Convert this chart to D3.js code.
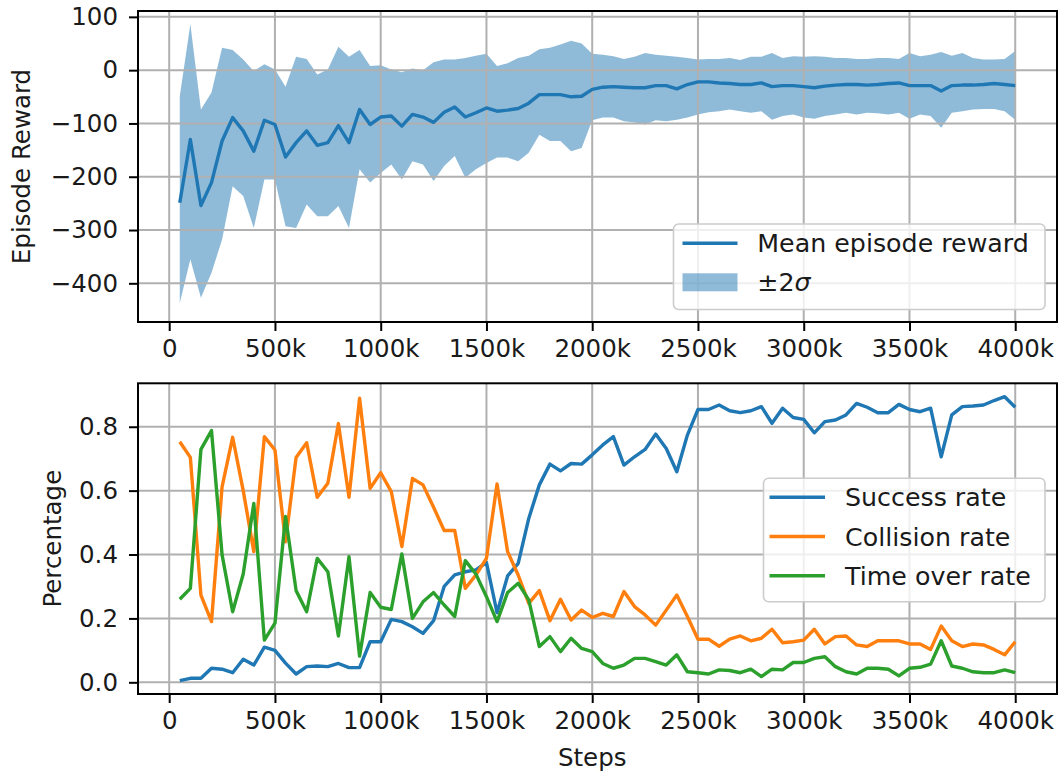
<!DOCTYPE html>
<html>
<head>
<meta charset="utf-8">
<script src="https://cdn.jsdelivr.net/npm/d3@7"></script>
<style>
  html, body { margin: 0; padding: 0; background: #fff; }
  svg { display: block; }
  text { font-family: "DejaVu Sans", sans-serif; fill: #1a1a1a; }
</style>
</head>
<body>
<svg id="chart" width="1063" height="776"></svg>
<script>
// ---------------- DATA ----------------
const steps = [50,100,150,200,250,300,350,400,450,500,550,600,650,700,750,800,850,900,950,1000,
  1050,1100,1150,1200,1250,1300,1350,1400,1450,1500,1550,1600,1650,1700,1750,1800,1850,1900,1950,2000,
  2050,2100,2150,2200,2250,2300,2350,2400,2450,2500,2550,2600,2650,2700,2750,2800,2850,2900,2950,3000,
  3050,3100,3150,3200,3250,3300,3350,3400,3450,3500,3550,3600,3650,3700,3750,3800,3850,3900,3950,4000];

const meanReward = [-249,-130,-254,-211,-133,-89,-114,-152,-94,-102,
  -163,-136,-114,-141,-136,-104,-136,-74,-102,-88,
  -86,-105,-83,-88,-98,-79,-69,-88,-80,-71,
  -77,-75,-72,-62,-46,-46,-46,-50,-49,-36,
  -32,-31,-32,-33,-33,-29,-29,-35,-27,-22,
  -22,-24,-25,-27,-27,-24,-31,-29,-29,-31,
  -33,-30,-28,-27,-27,-28,-27,-25,-24,-29,
  -29,-29,-39,-29,-28,-28,-27,-25,-27,-29];

const upperBand = [-49,86,-74,-42,42,38,20,-2,11,1,
  -31,25,21,-8,1,44,25,38,8,9,
  1,-4,3,0,15,20,20,23,27,31,
  8,13,23,27,39,42,48,55,50,31,
  29,26,21,25,32,29,27,25,23,20,
  21,21,23,19,25,25,32,23,26,25,
  26,25,23,23,21,21,23,23,21,32,
  26,29,34,27,32,23,20,20,21,36];

const lowerBand = [-437,-355,-427,-380,-318,-218,-236,-296,-205,-205,
  -293,-296,-252,-274,-274,-255,-296,-186,-211,-193,
  -177,-205,-171,-177,-208,-180,-161,-202,-186,-174,
  -164,-164,-171,-155,-121,-133,-133,-152,-146,-94,
  -89,-89,-96,-98,-102,-94,-96,-93,-89,-83,
  -79,-77,-74,-77,-80,-77,-93,-86,-83,-89,
  -91,-86,-83,-80,-83,-80,-81,-83,-80,-91,
  -83,-86,-108,-80,-77,-74,-73,-73,-77,-93];

const successRate = [0.005,0.0125,0.0125,0.044,0.041,0.030,0.072,0.054,0.11,0.10,
  0.06,0.026,0.049,0.051,0.049,0.059,0.046,0.046,0.127,0.127,
  0.197,0.19,0.174,0.153,0.193,0.30,0.336,0.346,0.352,0.375,
  0.218,0.333,0.372,0.513,0.618,0.683,0.662,0.685,0.683,0.712,
  0.743,0.769,0.68,0.706,0.729,0.777,0.732,0.659,0.774,0.854,
  0.854,0.868,0.85,0.844,0.85,0.863,0.811,0.858,0.829,0.823,
  0.781,0.816,0.821,0.837,0.873,0.861,0.844,0.844,0.87,0.854,
  0.847,0.858,0.706,0.837,0.863,0.865,0.868,0.882,0.894,0.861];

const collisionRate = [0.753,0.704,0.273,0.19,0.612,0.767,0.6,0.409,0.769,0.727,
  0.44,0.704,0.75,0.579,0.623,0.81,0.579,0.889,0.607,0.656,
  0.597,0.425,0.638,0.618,0.548,0.475,0.475,0.294,0.336,0.388,
  0.621,0.409,0.336,0.247,0.287,0.193,0.26,0.195,0.226,0.203,
  0.216,0.206,0.284,0.237,0.211,0.179,0.226,0.273,0.206,0.135,
  0.135,0.113,0.135,0.145,0.13,0.138,0.166,0.124,0.127,0.132,
  0.166,0.12,0.143,0.145,0.117,0.112,0.13,0.13,0.13,0.12,
  0.12,0.103,0.176,0.13,0.112,0.12,0.117,0.103,0.086,0.127];

const timeOverRate = [0.26,0.294,0.729,0.788,0.399,0.221,0.339,0.56,0.132,0.185,
  0.519,0.287,0.221,0.388,0.346,0.145,0.393,0.082,0.281,0.235,
  0.228,0.402,0.2,0.252,0.281,0.242,0.206,0.381,0.339,0.268,
  0.19,0.281,0.31,0.258,0.112,0.143,0.096,0.138,0.106,0.096,
  0.059,0.044,0.054,0.075,0.075,0.065,0.054,0.086,0.033,0.03,
  0.026,0.039,0.037,0.03,0.041,0.018,0.041,0.039,0.062,0.062,
  0.075,0.08,0.049,0.033,0.026,0.044,0.044,0.041,0.02,0.044,
  0.047,0.057,0.13,0.051,0.044,0.033,0.03,0.03,0.039,0.03];

const xTicks = [0,500,1000,1500,2000,2500,3000,3500,4000];
const xTickLabels = ["0","500k","1000k","1500k","2000k","2500k","3000k","3500k","4000k"];
const rewardTicks = [100,0,-100,-200,-300,-400];
const rateTicks = [0.0,0.2,0.4,0.6,0.8];

const topLegend = ["Mean episode reward", "±2σ"];
const rateSeries = [
  {name: "Success rate", values: successRate, color: "#1f77b4"},
  {name: "Collision rate", values: collisionRate, color: "#ff7f0e"},
  {name: "Time over rate", values: timeOverRate, color: "#2ca02c"}
];

// ---------------- LAYOUT ----------------
const svg = d3.select("#chart");
const L = 138, R = 1057;
const top1 = 11, bot1 = 322;
const top2 = 383.3, bot2 = 694;
const FONT = 24.5;
const LW = 3.4;
const GRID = "#b0b0b0";

const x = d3.scaleLinear().domain([-147.5, 4197.5]).range([L, R]);
const y1 = d3.scaleLinear().domain([-472.6, 111]).range([bot1, top1]);
const y2 = d3.scaleLinear().domain([-0.0366, 0.936]).range([bot2, top2]);

function grid(g, yScale, yT, yTop, yBot) {
  g.selectAll("line.gx").data(xTicks).join("line")
    .attr("x1", d => x(d)).attr("x2", d => x(d))
    .attr("y1", yTop).attr("y2", yBot)
    .attr("stroke", GRID).attr("stroke-width", 2);
  g.selectAll("line.gy").data(yT).join("line").attr("class","gy")
    .attr("x1", L).attr("x2", R)
    .attr("y1", d => yScale(d)).attr("y2", d => yScale(d))
    .attr("stroke", GRID).attr("stroke-width", 2);
}

function axes(yScale, yT, yFmt, yTop, yBot) {
  const gx = svg.append("g").attr("transform", `translate(0,${yBot})`)
    .call(d3.axisBottom(x).tickValues(xTicks).tickFormat((d,i) => xTickLabels[i]).tickSize(9).tickPadding(9));
  const gy = svg.append("g").attr("transform", `translate(${L},0)`)
    .call(d3.axisLeft(yScale).tickValues(yT).tickFormat(yFmt).tickSize(9).tickPadding(11));
  [gx, gy].forEach(g => {
    g.select(".domain").remove();
    g.selectAll(".tick line").attr("stroke", "#000").attr("stroke-width", 2);
    g.selectAll(".tick text").attr("font-size", FONT).attr("font-family", "DejaVu Sans").attr("fill", "#1a1a1a");
  });
  svg.append("rect").attr("x", L).attr("y", yTop).attr("width", R - L).attr("height", yBot - yTop)
    .attr("fill", "none").attr("stroke", "#000").attr("stroke-width", 2);
}

// ---------------- TOP PANEL ----------------
const area = d3.area()
  .x((d, i) => x(steps[i]))
  .y0((d, i) => y1(lowerBand[i]))
  .y1((d, i) => y1(upperBand[i]));
svg.append("path").datum(steps).attr("d", area)
  .attr("fill", "#1f77b4").attr("fill-opacity", 0.5);

grid(svg.append("g"), y1, rewardTicks, top1, bot1);

const line1 = d3.line().x((d, i) => x(steps[i])).y(d => y1(d));
svg.append("path").datum(meanReward).attr("d", line1)
  .attr("fill", "none").attr("stroke", "#1f77b4").attr("stroke-width", LW).attr("stroke-linejoin", "round");

axes(y1, rewardTicks, d3.format("d"), top1, bot1);

// legend top
const lg1 = svg.append("g");
lg1.append("rect").attr("x", 673.5).attr("y", 224).attr("width", 371.5).attr("height", 85.5).attr("rx", 5)
  .attr("fill", "#fff").attr("fill-opacity", 0.8).attr("stroke", "#cccccc").attr("stroke-width", 1.6);
lg1.append("line").attr("x1", 682.5).attr("x2", 737.5).attr("y1", 243.3).attr("y2", 243.3)
  .attr("stroke", "#1f77b4").attr("stroke-width", LW);
lg1.append("rect").attr("x", 682.5).attr("y", 273.3).attr("width", 55).attr("height", 18)
  .attr("fill", "#1f77b4").attr("fill-opacity", 0.5);
lg1.append("text").attr("x", 757.3).attr("y", 252.4).attr("font-size", FONT + 0.8).text(topLegend[0]);
const t2 = lg1.append("text").attr("x", 757.3).attr("y", 291.4).attr("font-size", FONT + 0.8);
t2.append("tspan").text(topLegend[1].slice(0, 2));
t2.append("tspan").attr("font-style", "italic").text(topLegend[1].slice(2));

svg.append("text").attr("transform", `translate(30,166.5) rotate(-90)`)
  .attr("text-anchor", "middle").attr("font-size", FONT).text("Episode Reward");

// ---------------- BOTTOM PANEL ----------------
grid(svg.append("g"), y2, rateTicks, top2, bot2);

rateSeries.forEach(s => {
  const ln = d3.line().x((d, i) => x(steps[i])).y(d => y2(d));
  svg.append("path").datum(s.values).attr("d", ln)
    .attr("fill", "none").attr("stroke", s.color).attr("stroke-width", LW).attr("stroke-linejoin", "round");
});

axes(y2, rateTicks, d3.format(".1f"), top2, bot2);

const lg2 = svg.append("g");
lg2.append("rect").attr("x", 763.5).attr("y", 478.3).attr("width", 281.5).attr("height", 123.4).attr("rx", 5)
  .attr("fill", "#fff").attr("fill-opacity", 0.8).attr("stroke", "#cccccc").attr("stroke-width", 1.6);
rateSeries.forEach((s, i) => {
  const yy = 497.3 + i * 39.2;
  lg2.append("line").attr("x1", 769.5).attr("x2", 825).attr("y1", yy).attr("y2", yy)
    .attr("stroke", s.color).attr("stroke-width", LW);
  lg2.append("text").attr("x", 845).attr("y", yy + 9).attr("font-size", FONT + 0.8).text(s.name);
});

svg.append("text").attr("transform", `translate(61,538.7) rotate(-90)`)
  .attr("text-anchor", "middle").attr("font-size", FONT).text("Percentage");

svg.append("text").attr("x", (x(0) + x(4000)) / 2).attr("y", 766)
  .attr("text-anchor", "middle").attr("font-size", FONT).text("Steps");
</script>
</body>
</html>
